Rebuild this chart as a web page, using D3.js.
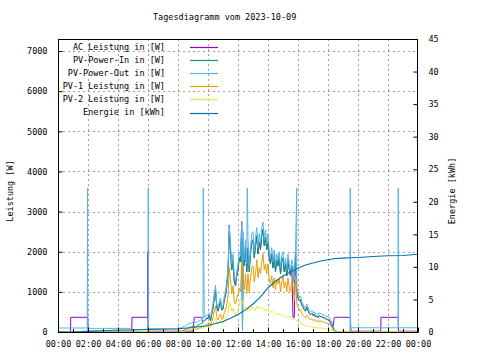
<!DOCTYPE html>
<html><head><meta charset="utf-8">
<script src="https://cdn.jsdelivr.net/npm/d3@7"></script>
<style>
body{margin:0;background:#fff}
svg{display:block}
text{font-family:"DejaVu Sans Mono",monospace;font-size:8.5px;fill:#000}
</style>
</head><body>
<svg id="c" width="480" height="360"></svg>
<script>
// ---------- DATA ----------
const title = "Tagesdiagramm vom 2023-10-09";
const seriesNames = ["AC Leistung in [W]","PV-Power-In in [W]","PV-Power-Out in [W]","PV-1 Leistung in [W]","PV-2 Leistung in [W]","Energie in [kWh]"];
const seriesColors = ["#9400d3","#009e73","#56b4e9","#e69f00","#f0e442","#0072b2"];
const xTickMinutes = [0,120,240,360,480,600,720,840,960,1080,1200,1320,1440];
const yTicks = [0,1000,2000,3000,4000,5000,6000,7000];
const y2Ticks = [0,5,10,15,20,25,30,35,40,45];

// day samples: 08:00 .. 19:00 every 5 minutes (one row per hour)
const dayStartMin = 480, dayStepMin = 5;
const acDay = [
  20,20,20,20,20,20,20,20,20,20,20,20,
  20,366,366,366,366,366,366,366,250,280,300,350,
  340,420,280,450,600,850,1050,620,520,650,760,550,
  570,800,900,1150,1450,2665,2000,1550,1800,1250,1150,1400,
  1550,1850,1750,2755,2300,1650,2100,1500,2100,1500,1950,2250,
  2300,1850,2150,2400,1950,2250,2050,2400,2550,2150,2350,2050,
  2250,1850,1700,1950,1600,1900,1500,1800,1650,1850,1450,1750,
  1850,1500,1700,1400,1800,1550,1400,1650,366,366,1950,1000,
  850,780,800,680,620,560,520,620,540,460,430,470,
  410,440,380,400,360,410,380,390,350,360,330,320,
  300,290,230,180,90,366,366,366,366,366,366,366,
  366];
const pvInDay = [
  0,0,0,10,30,45,60,80,100,110,130,120,
  150,140,130,150,170,190,210,200,250,280,300,350,
  340,420,280,450,600,850,1050,620,520,650,760,550,
  570,800,900,1150,1450,2450,2000,1550,1800,1250,1150,1400,
  1550,1850,1750,2550,2300,1650,2100,1500,2100,1500,1950,2250,
  2300,1850,2150,2400,1950,2250,2050,2400,2550,2150,2350,2050,
  2250,1850,1700,1950,1600,1900,1500,1800,1650,1850,1450,1750,
  1850,1500,1700,1400,1800,1550,1400,1650,1550,1200,1950,1000,
  850,780,800,680,620,560,520,620,540,460,430,470,
  410,440,380,400,360,410,380,390,350,360,330,320,
  300,290,230,180,90,40,10,0,0,0,0,0,
  0];
const pvOutDay = [
  80,90,100,110,130,140,160,180,200,210,230,220,
  250,240,230,250,260,280,300,290,320,350,380,430,
  420,480,350,520,700,950,1170,700,600,750,850,620,
  650,880,1000,1250,1600,2650,2200,1700,1950,1400,1250,1500,
  1700,2000,1900,2740,2500,1800,2300,1700,2300,1650,2100,2450,
  2500,2000,2350,2600,2100,2450,2200,2600,2740,2300,2550,2200,
  2450,2000,1850,2100,1750,2050,1650,1950,1800,2000,1600,1900,
  2000,1650,1850,1550,1950,1700,1500,1800,1650,1300,2050,1100,
  950,850,900,750,700,620,600,700,620,520,500,540,
  480,500,450,470,430,480,450,460,420,430,400,390,
  380,360,300,250,150,80,50,10,0,0,0,0,
  0];
const pv1Day = [
  0,0,0,5,10,20,30,40,50,55,70,65,
  80,75,70,80,90,100,110,105,140,150,170,200,
  200,240,160,250,380,500,650,380,300,380,450,320,
  330,480,550,700,900,1600,1300,950,1150,750,700,850,
  950,1100,1000,1750,1500,1050,1450,950,1450,1000,1350,1600,
  1650,1250,1450,1800,1350,1600,1450,1750,1950,1550,1700,1450,
  1700,1300,1200,1400,1100,1350,1050,1300,1200,1350,1000,1250,
  1400,1100,1250,1000,1350,1100,1000,1200,1150,800,1400,700,
  600,540,560,460,420,380,350,420,380,320,300,330,
  290,300,270,280,250,280,270,270,250,250,230,220,
  210,200,160,120,60,20,0,0,0,0,0,0,
  0];
const pv2Day = [
  0,0,0,5,10,15,20,30,40,45,50,50,
  60,60,60,65,70,80,90,90,100,110,120,140,
  130,150,110,160,200,280,350,250,200,240,280,220,
  220,280,320,400,480,750,650,520,600,450,420,480,
  550,700,850,780,700,580,620,520,620,520,560,620,
  600,540,560,650,580,620,600,580,580,560,520,540,
  560,500,480,520,500,460,430,450,440,460,420,430,
  420,400,380,360,400,380,360,340,330,310,300,280,
  250,240,220,200,190,175,160,155,150,140,130,125,
  120,115,110,105,100,100,100,95,90,85,80,75,
  70,65,60,45,30,10,0,0,0,0,0,0,
  0];
// night / event samples [minute, W]
const acNight = [[0,0],[50,0],[51,366],[119,366],[120,20],[295,20],[296,366],[358,366],[359,2000],[360,20],[479,20],
  [1170,366],[1171,100],[1172,20],[1291,20],[1292,366],[1361,366],[1362,20],[1440,20]];
const acEvents = [[738,30]];
const pvInEvents = [[738,30]];
const pvOutNight = [[0,100],[117,100],[118,3590],[119,90],[295,90],[296,60],[360,60],[361,3590],[362,75],[479,75],
  [1168,0],[1169,3590],[1170,105],[1360,105],[1361,3590],[1362,105],[1440,105]];
const pvOutEvents = [[581,3590],[738,30],[757,3590],[955,3590]];
const zeroNight = [[0,0],[479,0],[1141,0],[1440,0]];
// energy [minute, kWh]
const energyMin = [0,60,120,180,240,300,360,420,480,540,600,630,660,690,720,750,780,810,840,870,900,930,960,990,1020,1050,1080,1110,1140,1170,1200,1260,1320,1380,1440];
const energyKWh = [0,0,0.1,0.2,0.3,0.3,0.4,0.45,0.5,0.7,1.0,1.3,1.6,2.1,2.7,3.4,4.3,5.4,6.8,7.8,8.6,9.2,9.8,10.3,10.6,10.9,11.1,11.3,11.35,11.4,11.45,11.6,11.7,11.75,11.95];

// ---------- BUILD ----------
function dayPairs(vals){ return vals.map((v,i)=>[dayStartMin+i*dayStepMin, v]); }
function merge(...parts){ return parts.flat().sort((a,b)=>a[0]-b[0]); }
const acData = merge(acNight, acEvents, dayPairs(acDay));
const pvInData = merge(zeroNight, pvInEvents, dayPairs(pvInDay));
const pvOutData = merge(pvOutNight, pvOutEvents, dayPairs(pvOutDay));
const pv1Data = merge(zeroNight, dayPairs(pv1Day));
const pv2Data = merge(zeroNight, dayPairs(pv2Day));
const energyData = energyMin.map((m,i)=>[m, energyKWh[i]]);

const L=58, R=418, T=39, B=332;
const svg = d3.select("#c");
const x = d3.scaleLinear().domain([0,1440]).range([L,R]);
const y = d3.scaleLinear().domain([0,7300]).range([B,T]);
const y2 = d3.scaleLinear().domain([0,45]).range([B,T]);

// grid
const grid = svg.append("g").attr("stroke","#a0a0a0").attr("stroke-dasharray","2,3").attr("stroke-width",1);
yTicks.filter(v=>v>0).forEach(v=>{
  const yy = Math.round(y(v))+0.5;
  grid.append("line").attr("x1",L).attr("x2",R).attr("y1",yy).attr("y2",yy);
});
xTickMinutes.filter(m=>m>0&&m<1440).forEach(m=>{
  const xx = Math.round(x(m))+0.5;
  grid.append("line").attr("x1",xx).attr("x2",xx).attr("y1",T).attr("y2",B);
});

// data lines
svg.append("clipPath").attr("id","pc").append("rect").attr("x",L).attr("y",T).attr("width",R-L).attr("height",B-T);
const plot = svg.append("g").attr("clip-path","url(#pc)");
const line = d3.line().x(d=>x(d[0])).y(d=>y(d[1]));
const line2 = d3.line().x(d=>x(d[0])).y(d=>y2(d[1]));
[acData,pvInData,pvOutData,pv1Data,pv2Data].forEach((d,i)=>{
  plot.append("path").attr("d",line(d)).attr("fill","none").attr("stroke",seriesColors[i]).attr("stroke-width",1);
});
plot.append("path").attr("d",line2(energyData)).attr("fill","none").attr("stroke",seriesColors[5]).attr("stroke-width",1.1);

// border
svg.append("rect").attr("x",L+0.5).attr("y",T+0.5).attr("width",R-L-1).attr("height",B-T).attr("fill","none").attr("stroke","#000");

// axes
const fmt = m => { const h=Math.floor(m/60)%24, mm=m%60; return String(h).padStart(2,"0")+":"+String(mm).padStart(2,"0"); };
const gl = svg.append("g").attr("transform",`translate(${L+0.5},0)`)
  .call(d3.axisLeft(y).tickValues(yTicks).tickSize(-4).tickPadding(11).tickFormat(d3.format("d")));
const gr = svg.append("g").attr("transform",`translate(${R-0.5},0)`)
  .call(d3.axisRight(y2).tickValues(y2Ticks).tickSize(-4).tickPadding(11).tickFormat(d3.format("d")));
const gb = svg.append("g").attr("transform",`translate(0,${B+0.5})`)
  .call(d3.axisBottom(x).tickValues(xTickMinutes).tickSize(-5).tickPadding(8).tickFormat(fmt));
[gl,gr,gb].forEach(g=>{ g.select(".domain").remove(); g.selectAll("text").attr("font-family",null).attr("font-size",null); g.selectAll("line").attr("stroke","#000"); });
d3.range(60,1440,120).forEach(m=>{
  const xx = Math.round(x(m))+0.5;
  svg.append("line").attr("x1",xx).attr("x2",xx).attr("y1",B).attr("y2",B-3).attr("stroke","#000");
});

// titles
svg.append("text").attr("x",153).attr("y",17).attr("dominant-baseline","middle").text(title);
svg.append("text").attr("transform","translate(10,191) rotate(-90)").attr("text-anchor","middle").attr("dominant-baseline","middle").text("Leistung [W]");
svg.append("text").attr("transform","translate(452,191) rotate(-90)").attr("text-anchor","middle").attr("dominant-baseline","middle").text("Energie [kWh]");

// legend
seriesNames.forEach((n,i)=>{
  const yy = 47 + i*13.1;
  svg.append("text").attr("x",165).attr("y",yy).attr("text-anchor","end").attr("dominant-baseline","middle").text(n);
  svg.append("line").attr("x1",190).attr("x2",218).attr("y1",Math.round(yy)+0.5).attr("y2",Math.round(yy)+0.5).attr("stroke",seriesColors[i]).attr("stroke-width",1.2);
});
</script>
</body></html>
